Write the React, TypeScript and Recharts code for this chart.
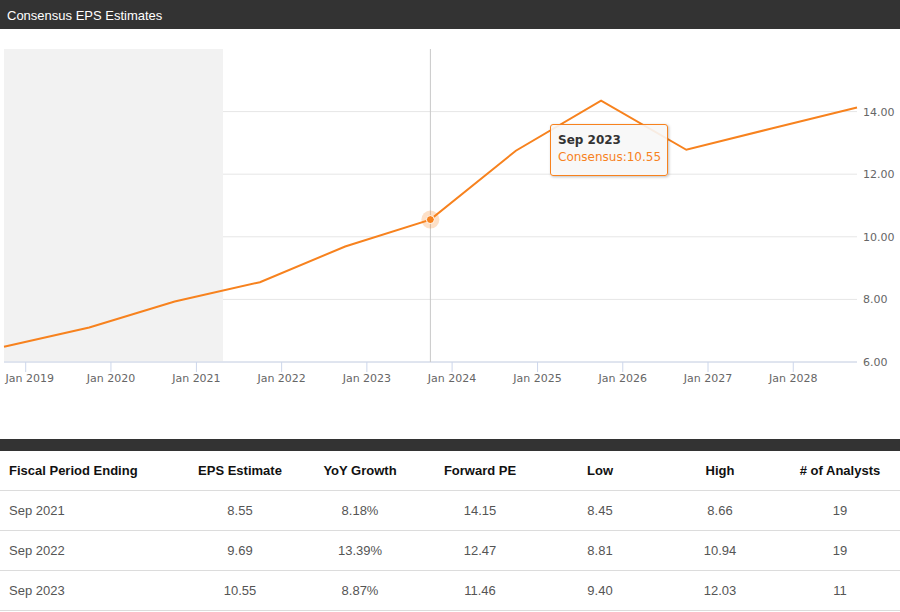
import React from "react";
import {
  LineChart,
  Line,
  XAxis,
  YAxis,
  CartesianGrid,
  Tooltip,
  ReferenceArea,
} from "recharts";

const ORANGE = "#f7821e";

// fiscal years end in September
const periods = [
  "Sep 2018", "Sep 2019", "Sep 2020", "Sep 2021", "Sep 2022", "Sep 2023",
  "Sep 2024", "Sep 2025", "Sep 2026", "Sep 2027", "Sep 2028",
];
const periodDates = [
  "2018-09-30", "2019-09-30", "2020-09-30", "2021-09-30", "2022-09-30", "2023-09-30",
  "2024-09-30", "2025-09-30", "2026-09-30", "2027-09-30", "2028-09-30",
];
const consensus = [6.49, 7.1, 7.93, 8.55, 9.69, 10.55, 12.75, 14.35, 12.78, 13.46, 14.13];

const xTickDates = [
  "2019-01-01", "2020-01-01", "2021-01-01", "2022-01-01", "2023-01-01",
  "2024-01-01", "2025-01-01", "2026-01-01", "2027-01-01", "2028-01-01",
];
const yTicks = [6, 8, 10, 12, 14];
const actualsEnd = "2021-04-25";

const tableHeaders = ["Fiscal Period Ending", "EPS Estimate", "YoY Growth", "Forward PE", "Low", "High", "# of Analysts"];
const tablePeriods = ["Sep 2021", "Sep 2022", "Sep 2023"];
const tableEps = ["8.55", "9.69", "10.55"];
const tableGrowth = ["8.18%", "13.39%", "8.87%"];
const tablePe = ["14.15", "12.47", "11.46"];
const tableLow = ["8.45", "8.81", "9.40"];
const tableHigh = ["8.66", "10.94", "12.03"];
const tableAnalysts = ["19", "19", "11"];

const ts = (d: string) => Date.parse(d + "T00:00:00Z");
const MONTHS = ["Jan", "Feb", "Mar", "Apr", "May", "Jun", "Jul", "Aug", "Sep", "Oct", "Nov", "Dec"];
const fmtTick = (v: number) => {
  const d = new Date(v);
  return `${MONTHS[d.getUTCMonth()]} ${d.getUTCFullYear()}`;
};

const data = periods.map((p, i) => ({ label: p, t: ts(periodDates[i]), eps: consensus[i] }));

const axisFont = { fontSize: 11, fill: "#666", fontFamily: "DejaVu Sans" };

// x labels, the first one nudged so it stays inside the plot like the original
function XTick({ x, y, payload, index }: any) {
  return (
    <text x={x + (index === 0 ? 4 : 0)} y={y} dy="0.71em" textAnchor="middle" {...axisFont}>
      {fmtTick(payload.value)}
    </text>
  );
}

function TipBox({ active, payload }: any) {
  if (!active || !payload || !payload.length) return null;
  const row = payload[0].payload;
  return (
    <div
      style={{
        width: 116,
        height: 50,
        boxSizing: "content-box",
        background: "rgba(247,247,247,0.9)",
        border: `1px solid ${ORANGE}`,
        borderRadius: 3,
        boxShadow: "1px 1px 3px rgba(0,0,0,0.25)",
        fontFamily: "DejaVu Sans",
        fontSize: 12,
        padding: 0,
      }}
    >
      <div style={{ fontWeight: "bold", color: "#333", padding: "8px 0 0 7px" }}>{row.label}</div>
      <div style={{ color: ORANGE, padding: "3px 0 0 7px" }}>Consensus:{row.eps.toFixed(2)}</div>
    </div>
  );
}

function ActiveDot({ cx, cy }: any) {
  return (
    <g>
      <circle cx={cx} cy={cy} r={9} fill={ORANGE} fillOpacity={0.25} />
      <circle cx={cx} cy={cy} r={4} fill={ORANGE} stroke="#fff" strokeWidth={1} />
    </g>
  );
}

const cell: React.CSSProperties = {
  height: 39,
  padding: 0,
  borderBottom: "1px solid #dcdcdc",
  textAlign: "center",
};

export default function App() {
  const rows = tablePeriods.map((p, i) => [
    p, tableEps[i], tableGrowth[i], tablePe[i], tableLow[i], tableHigh[i], tableAnalysts[i],
  ]);
  return (
    <div style={{ width: 900, height: 612, position: "relative", fontFamily: "Liberation Sans, Arial, sans-serif", background: "#fff" }}>
      <style>{"body{margin:0}"}</style>
      <div
        style={{
          height: 29,
          lineHeight: "31px",
          background: "#333",
          color: "#fff",
          fontSize: 13,
          paddingLeft: 7,
          overflow: "hidden",
        }}
      >
        Consensus EPS Estimates
      </div>
      <LineChart width={900} height={410} data={data} margin={{ top: 20, right: 0, left: 4, bottom: 47 }}>
        <ReferenceArea x1={data[0].t} x2={ts(actualsEnd)} fill="#f2f2f2" fillOpacity={1} stroke="none" ifOverflow="hidden" />
        <CartesianGrid vertical={false} stroke="#e6e6e6" horizontalValues={yTicks} syncWithTicks />
        <XAxis
          dataKey="t"
          type="number"
          scale="time"
          domain={[data[0].t, data[data.length - 1].t]}
          ticks={xTickDates.map(ts)}
          interval={0}
          tick={<XTick />}
          tickLine={{ stroke: "#ccd6eb" }}
          tickSize={10}
          tickMargin={2}
          stroke="#ccd6eb"
          height={30}
        />
        <YAxis
          orientation="right"
          domain={[6, 16]}
          ticks={yTicks}
          tickFormatter={(v) => Number(v).toFixed(2)}
          tick={axisFont}
          axisLine={false}
          tickLine={false}
          tickSize={6}
          tickMargin={0}
          width={43}
        />
        <Tooltip
          active
          defaultIndex={5}
          position={{ x: 550, y: 95 }}
          content={<TipBox />}
          cursor={{ stroke: "#c8c8c8", strokeWidth: 1 }}
          isAnimationActive={false}
        />
        <Line
          dataKey="eps"
          type="linear"
          stroke={ORANGE}
          strokeWidth={2}
          dot={false}
          activeDot={<ActiveDot />}
          isAnimationActive={false}
        />
      </LineChart>
      <div style={{ height: 12, background: "#333" }} />
      <table style={{ width: 900, borderCollapse: "collapse", tableLayout: "fixed", fontSize: 13 }}>
        <colgroup>
          <col style={{ width: 180 }} />
          {tableHeaders.slice(1).map((h) => (
            <col key={h} style={{ width: 120 }} />
          ))}
        </colgroup>
        <thead>
          <tr>
            {tableHeaders.map((h, i) => (
              <th
                key={h}
                style={{ ...cell, fontWeight: "bold", color: "#111", textAlign: i === 0 ? "left" : "center", paddingLeft: i === 0 ? 9 : 0 }}
              >
                {h}
              </th>
            ))}
          </tr>
        </thead>
        <tbody>
          {rows.map((r) => (
            <tr key={r[0]}>
              {r.map((v, i) => (
                <td key={i} style={{ ...cell, color: "#555", textAlign: i === 0 ? "left" : "center", paddingLeft: i === 0 ? 9 : 0 }}>
                  {v}
                </td>
              ))}
            </tr>
          ))}
        </tbody>
      </table>
    </div>
  );
}
